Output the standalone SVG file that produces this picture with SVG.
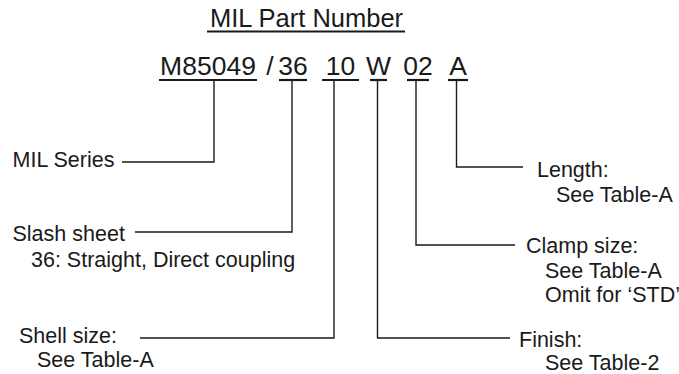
<svg xmlns="http://www.w3.org/2000/svg" width="679" height="374" viewBox="0 0 679 374">
<style>
text{font-family:"Liberation Sans",Arial,sans-serif;fill:#1a1a1a}
.t{font-size:25.5px}
.pn{font-size:26.5px;text-anchor:middle}
.lb{font-size:21.5px}
.ul{stroke:#1a1a1a;stroke-width:2.2;fill:none}
.c{stroke:#1a1a1a;stroke-width:1.4;fill:none}
</style>
<rect width="679" height="374" fill="#fff"/>
<g id="title">
<text class="t" x="306.5" y="27" text-anchor="middle">MIL Part Number</text>
<line class="ul" x1="207" y1="31.5" x2="405" y2="31.5"/>
</g>
<g id="part-number">
<text class="pn" x="208" y="75">M85049</text>
<text class="pn" x="270" y="75">/</text>
<text class="pn" x="293" y="75">36</text>
<text class="pn" x="340.5" y="75">10</text>
<text class="pn" x="378.5" y="75">W</text>
<text class="pn" x="418" y="75">02</text>
<text class="pn" x="458" y="75">A</text>
<line class="ul" x1="159" y1="80" x2="257" y2="80"/>
<line class="ul" x1="279" y1="80" x2="307" y2="80"/>
<line class="ul" x1="322" y1="80" x2="359" y2="80"/>
<line class="ul" x1="370" y1="80" x2="387" y2="80"/>
<line class="ul" x1="407" y1="80" x2="429" y2="80"/>
<line class="ul" x1="448" y1="80" x2="468" y2="80"/>
</g>
<g id="connectors">
<polyline class="c" points="214,81 214,162 122,162"/>
<polyline class="c" points="292,81 292,232 135,232"/>
<polyline class="c" points="334,81 334,338 140,338"/>
<polyline class="c" points="377.5,81 377.5,338 510,338"/>
<polyline class="c" points="416,81 416,245 515,245"/>
<polyline class="c" points="456.5,81 456.5,167 523,167"/>
</g>
<g id="mil-series">
<text class="lb" x="12.5" y="167">MIL Series</text>
</g>
<g id="slash-sheet">
<text class="lb" x="12.5" y="241">Slash sheet</text>
<text class="lb" x="31" y="266.5">36: Straight, Direct coupling</text>
</g>
<g id="shell-size">
<text class="lb" x="19" y="343">Shell size:</text>
<text class="lb" x="37" y="366.5">See Table-A</text>
</g>
<g id="length">
<text class="lb" x="537" y="177">Length:</text>
<text class="lb" x="556" y="201.5">See Table-A</text>
</g>
<g id="clamp-size">
<text class="lb" x="526" y="253">Clamp size:</text>
<text class="lb" x="545" y="277.5">See Table-A</text>
<text class="lb" x="545" y="302">Omit for ‘STD’</text>
</g>
<g id="finish">
<text class="lb" x="519" y="346.5">Finish:</text>
<text class="lb" x="545" y="369.5">See Table-2</text>
</g>
</svg>
